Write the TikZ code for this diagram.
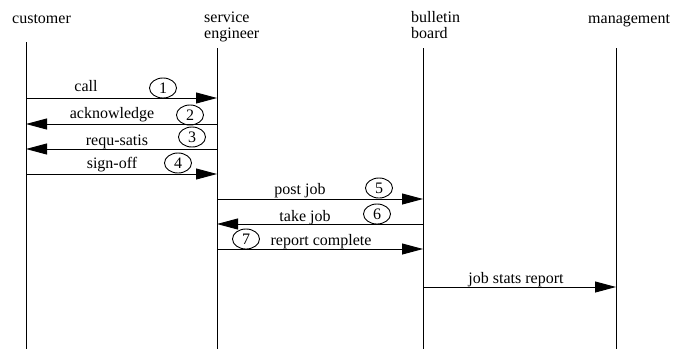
\documentclass[tikz,border=0pt]{standalone}
\usepackage{fontspec}
\setmainfont{Liberation Serif}
\usetikzlibrary{arrows.meta, positioning, shapes.geometric}

\begin{document}
\begin{tikzpicture}[x=1pt, y=-1pt, font=\fontsize{16}{16}\selectfont,
    life/.style={line width=1pt},
    msg/.style={line width=0.9pt, -{Triangle[length=21pt, width=11pt]}},
    num/.style={ellipse, draw, line width=0.9pt, minimum width=27pt, minimum height=20pt, inner sep=0pt},
    lbl/.style={anchor=base, inner sep=0pt}]
    \useasboundingbox (0,0) rectangle (676,349);

    % participants (two-line names sit on their last baseline)
    \node[anchor=base west, inner sep=0pt] (cust) at (12,23) {customer};
    \node[anchor=base west, inner sep=0pt, align=left] (serv) at (204,38) {service\\engineer};
    \node[anchor=base west, inner sep=0pt, align=left] (board) at (411,38) {bulletin\\board};
    \node[anchor=base west, inner sep=0pt] (mgmt) at (588,23) {management};

    % lifelines
    \coordinate (custtop) at (26,42);   \coordinate (custbot) at (26,349);
    \coordinate (servtop) at (217,48);  \coordinate (servbot) at (217,349);
    \coordinate (boardtop) at (423,48); \coordinate (boardbot) at (423,349);
    \coordinate (mgmttop) at (616,48);  \coordinate (mgmtbot) at (616,349);
    \draw[life] (custtop) -- (custbot);
    \draw[life] (servtop) -- (servbot);
    \draw[life] (boardtop) -- (boardbot);
    \draw[life] (mgmttop) -- (mgmtbot);

    % message rows
    \coordinate (r1) at (0,98);  \coordinate (r2) at (0,124);
    \coordinate (r3) at (0,149); \coordinate (r4) at (0,174);
    \coordinate (r5) at (0,199); \coordinate (r6) at (0,224);
    \coordinate (r7) at (0,249); \coordinate (r8) at (0,287);

    \draw[msg] (custtop |- r1) -- (servtop |- r1);
    \draw[msg] (servtop |- r2) -- (custtop |- r2);
    \draw[msg] (servtop |- r3) -- (custtop |- r3);
    \draw[msg] (custtop |- r4) -- (servtop |- r4);
    \draw[msg] (servtop |- r5) -- (boardtop |- r5);
    \draw[msg] (boardtop |- r6) -- (servtop |- r6);
    \draw[msg] (servtop |- r7) -- (boardtop |- r7);
    \draw[msg] (boardtop |- r8) -- (mgmttop |- r8);

    % message labels
    \node[lbl] (call) at (86,91) {call};
    \node[lbl] (ack) at (112,118) {acknowledge};
    \node[lbl] (requ) at (117,145) {requ-satis};
    \node[lbl] (sign) at (112,168) {sign-off};
    \node[lbl] (post) at (300,194) {post job};
    \node[lbl] (take) at (305,221) {take job};
    \node[lbl] (rep) at (321,245) {report complete};
    \node[lbl] (stats) at (516,283) {job stats report};

    % step numbers
    \node[num] (n1) at (163,88) {1};
    \node[num] (n2) at (190,115) {2};
    \node[num] (n3) at (192,137) {3};
    \node[num] (n4) at (178,163) {4};
    \node[num] (n5) at (379,188) {5};
    \node[num] (n6) at (377,214) {6};
    \node[num] (n7) at (246,239) {7};
\end{tikzpicture}
\end{document}
